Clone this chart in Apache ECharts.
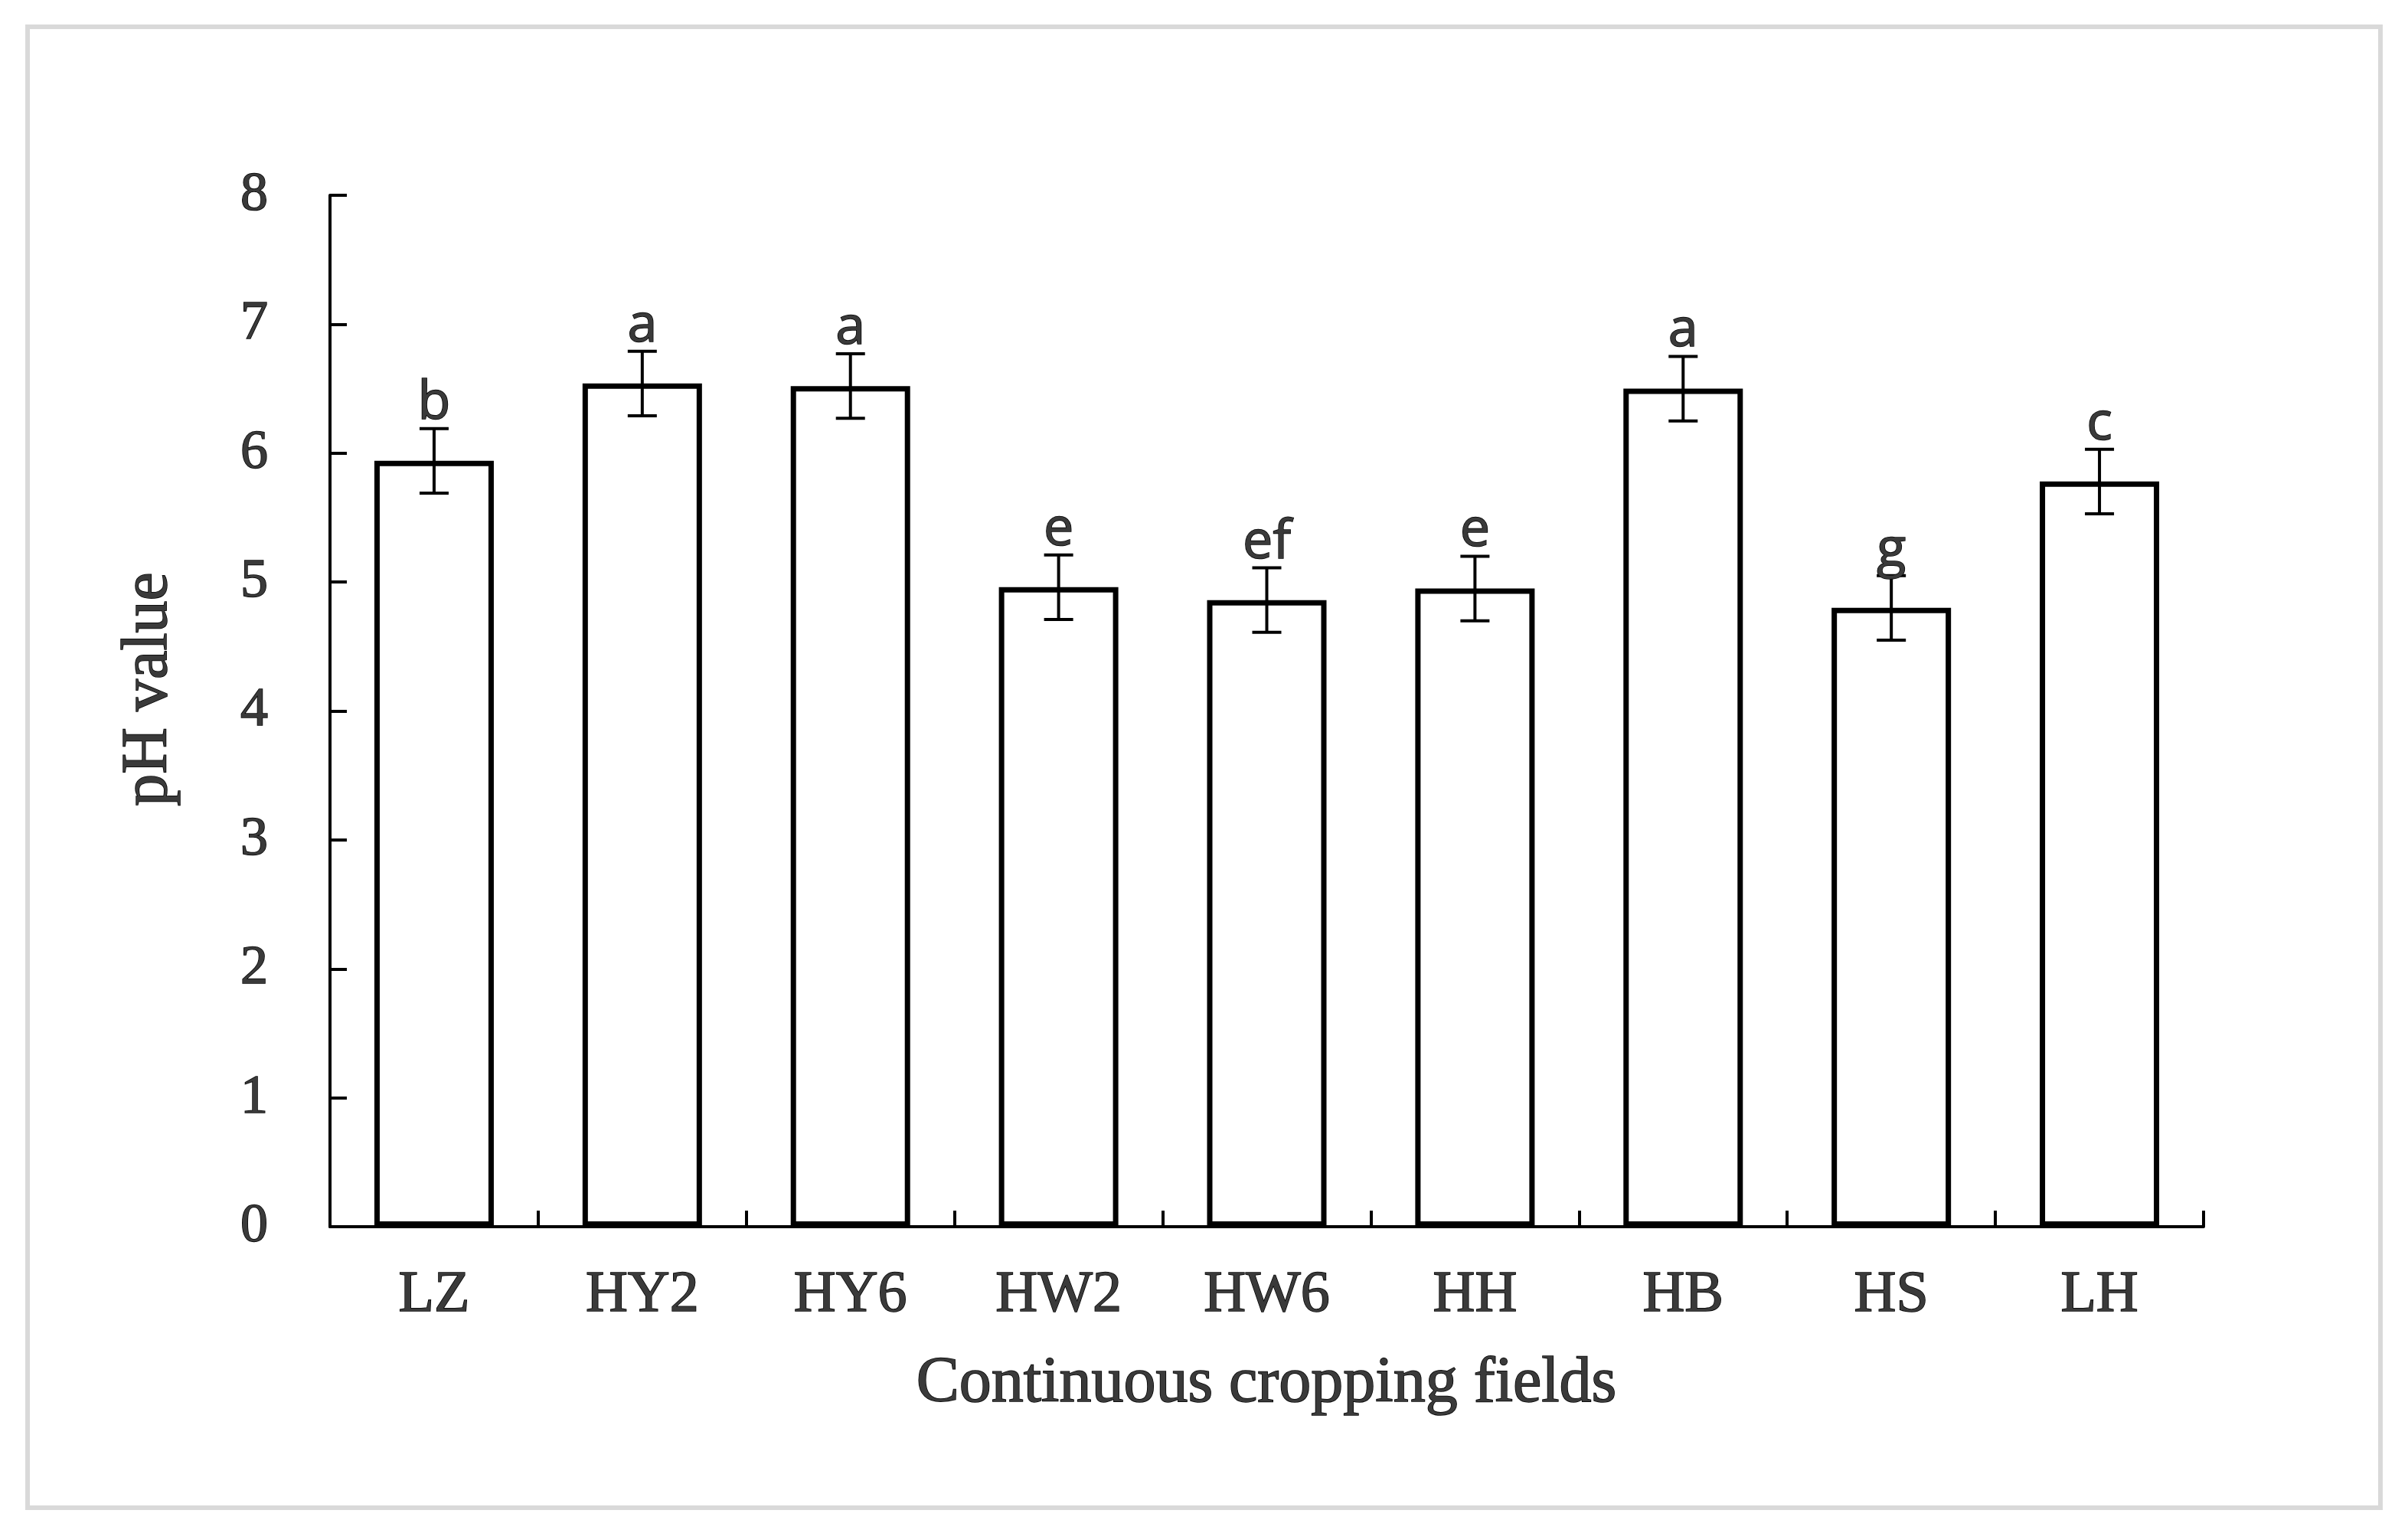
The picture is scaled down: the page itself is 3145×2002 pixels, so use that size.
<!DOCTYPE html>
<html>
<head>
<meta charset="utf-8">
<style>
  html, body { margin: 0; padding: 0; background: #ffffff; }
  #chart { width: 3145px; height: 2002px; }
</style>
<script src="https://cdn.jsdelivr.net/npm/echarts@6/dist/echarts.min.js"></script>
</head>
<body>
<div id="chart"></div>
<script>
// ---- data ----
var categories = ['LZ', 'HY2', 'HY6', 'HW2', 'HW6', 'HH', 'HB', 'HS', 'LH'];
var phValues   = [5.94, 6.54, 6.52, 4.96, 4.86, 4.95, 6.50, 4.80, 5.78];
var phErrors   = [0.25, 0.25, 0.25, 0.25, 0.25, 0.25, 0.25, 0.25, 0.25];
var sigLetters = ['b', 'a', 'a', 'e', 'ef', 'e', 'a', 'g', 'c'];
var yTicks     = [0, 1, 2, 3, 4, 5, 6, 7, 8];
var xTitle = 'Continuous cropping fields';
var yTitle = 'pH value';

var serif = '"Liberation Serif", "Times New Roman", serif';
var sans = '"Open Sans", "Noto Sans", sans-serif';
var textColor = '#3a3a3a';
var outline = '#000000';

var errData = categories.map(function (c, i) {
  return [i, phValues[i], phErrors[i]];
});

var chart = echarts.init(document.getElementById('chart'), null, { renderer: 'canvas' });

var option = {
  backgroundColor: '#ffffff',
  animation: false,
  grid: { left: 431, right: 267, top: 255, bottom: 400, containLabel: false },
  xAxis: {
    type: 'category',
    data: categories,
    boundaryGap: true,
    axisLine: { show: true, lineStyle: { color: '#000', width: 4 } },
    axisTick: { show: true, inside: true, length: 21, alignWithLabel: false,
                lineStyle: { color: '#000', width: 4 } },
    axisLabel: { margin: 52, fontFamily: serif, fontSize: 76, color: textColor,
                 textBorderColor: outline, textBorderWidth: 1.5 },
    splitLine: { show: false }
  },
  yAxis: {
    type: 'value',
    min: yTicks[0],
    max: yTicks[yTicks.length - 1],
    interval: 1,
    axisLine: { show: true, lineStyle: { color: '#000', width: 4 } },
    axisTick: { show: true, inside: true, length: 22, lineStyle: { color: '#000', width: 4 } },
    axisLabel: { margin: 81, fontFamily: serif, fontSize: 72, color: textColor,
                 textBorderColor: outline, textBorderWidth: 1.5 },
    splitLine: { show: false }
  },
  graphic: [
    {
      type: 'rect', silent: true, z: -10,
      shape: { x: 36, y: 35, width: 3073, height: 1934 },
      style: { fill: 'none', stroke: '#d9d9d9', lineWidth: 6 }
    },
    {
      type: 'text', x: 1654, y: 1808,
      style: { text: xTitle, font: '84px ' + serif, fill: textColor,
               stroke: outline, lineWidth: 1.5,
               textAlign: 'center', textVerticalAlign: 'middle' }
    },
    {
      type: 'text', x: 195, y: 900, rotation: Math.PI / 2,
      style: { text: yTitle, font: '84px ' + serif, fill: textColor,
               stroke: outline, lineWidth: 1.5,
               textAlign: 'center', textVerticalAlign: 'middle' }
    }
  ],
  series: [
    {
      type: 'bar',
      data: phValues,
      barWidth: 156,
      itemStyle: { color: '#ffffff', borderColor: '#000000', borderWidth: 7 },
      z: 2
    },
    {
      type: 'custom',
      data: errData,
      z: 3,
      renderItem: function (params, api) {
        var xi = api.value(0);
        var v = api.value(1);
        var e = api.value(2);
        var letter = sigLetters[params.dataIndex];
        var top = api.coord([xi, v + e]);
        var bot = api.coord([xi, v - e]);
        var half = 19;
        var ls = { stroke: '#000', lineWidth: 4 };
        return {
          type: 'group',
          children: [
            { type: 'line', shape: { x1: top[0], y1: top[1], x2: bot[0], y2: bot[1] }, style: ls },
            { type: 'line', shape: { x1: top[0] - half, y1: top[1], x2: top[0] + half, y2: top[1] }, style: ls },
            { type: 'line', shape: { x1: bot[0] - half, y1: bot[1], x2: bot[0] + half, y2: bot[1] }, style: ls },
            { type: 'text', x: top[0], y: top[1] - 33,
              style: { text: letter, font: '70px ' + sans, fill: textColor,
                       stroke: outline, lineWidth: 1.5,
                       textAlign: 'center', textVerticalAlign: 'middle' } }
          ]
        };
      }
    }
  ]
};

chart.setOption(option);
</script>
</body>
</html>
